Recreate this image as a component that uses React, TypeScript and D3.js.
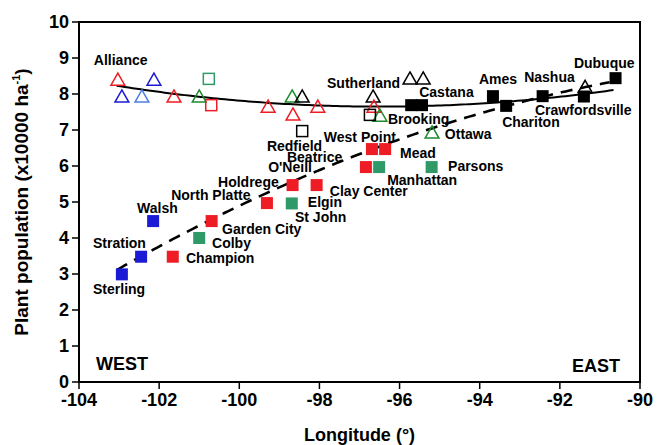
import React from "react";
import * as d3 from "d3";

const W = 658, H = 445;
const M = { left: 79, right: 18, top: 22, bottom: 63 };

const xTicks = [-104, -102, -100, -98, -96, -94, -92, -90];
const yTicks = [0, 1, 2, 3, 4, 5, 6, 7, 8, 9, 10];

// open triangles
const triLon = [-103.03, -102.93, -102.13, -102.43, -101.63, -101.0, -99.28, -98.68, -98.43, -98.66, -98.04, -96.66, -96.64, -96.49, -95.74, -95.41, -95.19, -91.37];
const triPop = [8.39, 7.92, 8.39, 7.92, 7.92, 7.92, 7.64, 7.92, 7.92, 7.42, 7.64, 7.92, 7.64, 7.39, 8.42, 8.42, 6.92, 8.19];
const triCol = ["red", "blue", "blue", "lightblue", "red", "green", "red", "green", "black", "red", "red", "black", "red", "green", "black", "black", "green", "black"];

// open squares
const osqLon = [-100.76, -100.7, -96.74, -98.43];
const osqPop = [8.42, 7.69, 7.42, 6.97];
const osqCol = ["teal", "red", "black", "black"];

// filled squares
const fsqLon = [-95.71, -95.44, -93.67, -93.34, -92.43, -91.4, -90.61, -96.69, -96.36, -96.84, -96.51, -95.2, -98.67, -98.07, -99.31, -98.69, -102.15, -100.69, -101.0, -102.45, -101.66, -102.93];
const fsqPop = [7.69, 7.69, 7.94, 7.67, 7.94, 7.93, 8.44, 6.47, 6.47, 5.97, 5.97, 5.97, 5.47, 5.47, 4.97, 4.96, 4.47, 4.47, 4.0, 3.48, 3.48, 2.99];
const fsqCol = ["black", "black", "black", "black", "black", "black", "black", "red", "red", "red", "teal", "teal", "red", "red", "red", "teal", "blue", "red", "teal", "blue", "red", "blue"];

// site labels (left edge of text, vertical centre)
const labText = ["Alliance", "Sutherland", "Castana", "Brooking", "Ottawa", "Redfield", "West Point", "Mead", "Beatrice", "O'Neill", "Manhattan", "Parsons", "Clay Center", "Holdrege", "North Platte", "Garden City", "Elgin", "St John", "Walsh", "Colby", "Stration", "Champion", "Sterling", "Ames", "Nashua", "Dubuque", "Crawfordsville", "Chariton"];
const labLon = [-103.63, -97.81, -95.51, -96.29, -94.87, -99.31, -97.89, -95.99, -98.81, -99.28, -96.31, -94.79, -97.74, -100.53, -101.7, -100.43, -98.29, -98.61, -102.55, -100.68, -103.65, -101.33, -103.65, -94.02, -92.89, -91.65, -92.62, -93.44];
const labPop = [8.94, 8.31, 8.04, 7.31, 6.89, 6.56, 6.81, 6.37, 6.25, 5.98, 5.61, 6.0, 5.31, 5.56, 5.19, 4.25, 5.0, 4.58, 4.84, 3.86, 3.87, 3.44, 2.58, 8.42, 8.48, 8.87, 7.54, 7.23];

// quadratic fit coefficients (upper, solid): pop = c + a*(lon - l0)^2
const solidFit = { a: 0.0135, l0: -96.5, c: 7.65, from: -103.06, to: -90.58 };
// lower, dashed: pop = p0 + b*u + q*u^2, u = lon - start
const dashFit = { p0: 3.11, b: 0.6357, q: -0.01721, from: -103.06, to: -90.75 };

const colors: Record<string, string> = {
  red: "#ee1c24",
  blue: "#1b1bd6",
  lightblue: "#4f7fe6",
  green: "#1e8a2e",
  teal: "#2f9a68",
  black: "#000000",
};

export default function App() {
  const x = d3.scaleLinear().domain([-104, -90]).range([M.left, W - M.right]);
  const y = d3.scaleLinear().domain([0, 10]).range([H - M.bottom, M.top]);
  const font = "Liberation Sans, Arial, sans-serif";

  const solidPts = d3.range(solidFit.from, solidFit.to + 0.001, 0.1).map((l) => [l, solidFit.c + solidFit.a * (l - solidFit.l0) ** 2]);
  const dashPts = d3.range(dashFit.from, dashFit.to + 0.001, 0.1).map((l) => {
    const u = l - dashFit.from;
    return [l, dashFit.p0 + dashFit.b * u + dashFit.q * u * u];
  });
  const line = d3.line<number[]>().x((d) => x(d[0])).y((d) => y(d[1]));

  const triPath = (cx: number, cy: number, s: number) =>
    `M${cx},${cy - s * 0.6}L${cx + s * 0.6},${cy + s * 0.45}L${cx - s * 0.6},${cy + s * 0.45}Z`;

  const x0 = M.left, x1 = W - M.right, y0 = H - M.bottom, y1 = M.top;

  return (
    <svg width={W} height={H} style={{ position: "absolute", left: 0, top: 0, background: "#fff" }} fontFamily={font}>
      <rect x={0} y={0} width={W} height={H} fill="#fff" />
      <rect x={x0} y={y1} width={x1 - x0} height={y0 - y1} fill="none" stroke="#000" strokeWidth={2} />
      {yTicks.map((t) => (
        <g key={"y" + t}>
          <line x1={x0 - 7} x2={x0} y1={y(t)} y2={y(t)} stroke="#000" strokeWidth={1.5} />
          <text x={x0 - 10} y={y(t)} dy="0.35em" textAnchor="end" fontSize={18} fontWeight="bold">{t}</text>
        </g>
      ))}
      {xTicks.map((t) => (
        <g key={"x" + t}>
          <line x1={x(t)} x2={x(t)} y1={y0} y2={y0 + 7} stroke="#000" strokeWidth={1.5} />
          <text x={x(t)} y={y0 + 24} textAnchor="middle" fontSize={18} fontWeight="bold">{t}</text>
        </g>
      ))}
      <text x={(x0 + x1) / 2} y={H - 4} textAnchor="middle" fontSize={18} fontWeight="bold">Longitude (°)</text>
      <text transform={`translate(28,${(y0 + y1) / 2}) rotate(-90)`} textAnchor="middle" fontSize={19} fontWeight="bold">
        Plant population (x10000 ha<tspan fontSize={11} dy={-8}>-1</tspan><tspan dy={8}>)</tspan>
      </text>

      <path d={line(solidPts) || ""} fill="none" stroke="#000" strokeWidth={2} />
      <path d={line(dashPts) || ""} fill="none" stroke="#000" strokeWidth={2.6} strokeDasharray="12,8" />

      {triLon.map((l, i) => (
        <path key={"t" + i} d={triPath(x(l), y(triPop[i]), 11.5)} fill="none" stroke={colors[triCol[i]]} strokeWidth={1.5} />
      ))}
      {osqLon.map((l, i) => (
        <rect key={"o" + i} x={x(l) - 5.5} y={y(osqPop[i]) - 5.5} width={11} height={11} fill="none" stroke={colors[osqCol[i]]} strokeWidth={1.5} />
      ))}
      {fsqLon.map((l, i) => (
        <rect key={"f" + i} x={x(l) - 6} y={y(fsqPop[i]) - 6} width={12} height={12} fill={colors[fsqCol[i]]} stroke="none" />
      ))}

      {labText.map((t, i) => (
        <text key={"l" + i} x={x(labLon[i])} y={y(labPop[i])} dy="0.35em" fontSize={14} fontWeight="bold">{t}</text>
      ))}
      <text x={96} y={y(0.5)} dy="0.35em" fontSize={18} fontWeight="bold">WEST</text>
      <text x={x1 - 20} y={y(0.45)} dy="0.35em" textAnchor="end" fontSize={18} fontWeight="bold">EAST</text>
    </svg>
  );
}
